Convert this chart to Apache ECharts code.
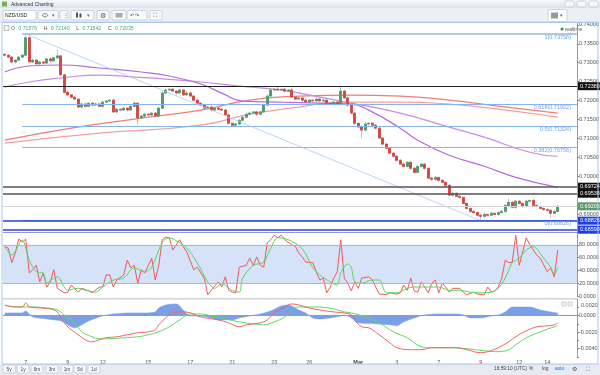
<!DOCTYPE html>
<html><head><meta charset="utf-8">
<script src="https://cdn.jsdelivr.net/npm/echarts@6/dist/echarts.min.js"></script>
<style>html,body{margin:0;padding:0;background:#fff}#c{width:600px;height:375px}</style>
</head><body><div id="c"></div>
<script>
// ---------- DATA ----------
const totalSlots = 164; // 4h candle slots incl. empty space at right
const closes = [0.7320,0.7315,0.7302,0.7307,0.7315,0.7320,0.7366,0.7302,0.7307,0.7297,
0.7302,0.7299,0.7310,0.7305,0.7313,0.7318,0.7268,0.7222,0.7215,0.7209,
0.7204,0.7183,0.7191,0.7185,0.7193,0.7188,0.7191,0.7185,0.7196,0.7199,
0.7201,0.7170,0.7177,0.7175,0.7180,0.7175,0.7185,0.7193,0.7154,0.7159,
0.7164,0.7162,0.7167,0.7159,0.7180,0.7220,0.7228,0.7230,0.7225,0.7220,
0.7228,0.7215,0.7220,0.7212,0.7201,0.7193,0.7188,0.7180,0.7183,0.7175,
0.7180,0.7177,0.7175,0.7162,0.7140,0.7135,0.7138,0.7148,0.7156,0.7164,
0.7167,0.7170,0.7164,0.7170,0.7188,0.7212,0.7228,0.7230,0.7228,0.7230,
0.7225,0.7228,0.7209,0.7204,0.7207,0.7201,0.7196,0.7201,0.7199,0.7204,
0.7199,0.7201,0.7193,0.7191,0.7196,0.7191,0.7225,0.7207,0.7188,0.7167,
0.7140,0.7130,0.7122,0.7138,0.7140,0.7135,0.7127,0.7101,0.7085,0.7074,
0.7061,0.7053,0.7042,0.7032,0.7026,0.7037,0.7021,0.7010,0.7026,0.7032,
0.7021,0.6995,0.6992,0.6997,0.6989,0.6984,0.6976,0.6950,0.6955,0.6947,
0.6944,0.6928,0.6915,0.6907,0.6904,0.6897,0.6894,0.6899,0.6897,0.6902,
0.6899,0.6904,0.6907,0.6923,0.6931,0.6918,0.6934,0.6928,0.6920,0.6934,
0.6936,0.6923,0.6920,0.6915,0.6912,0.6910,0.6902,0.6907,0.69205];
const opens = [0.7322,0.7320,0.7315,0.7302,0.7307,0.7315,0.7320,0.7366,0.7302,0.7307,
0.7297,0.7302,0.7299,0.7310,0.7305,0.7313,0.7318,0.7268,0.7222,0.7215,
0.7209,0.7204,0.7183,0.7191,0.7185,0.7193,0.7188,0.7191,0.7185,0.7196,
0.7199,0.7201,0.7170,0.7177,0.7175,0.7180,0.7175,0.7185,0.7193,0.7154,
0.7159,0.7164,0.7162,0.7167,0.7159,0.7180,0.7220,0.7228,0.7230,0.7225,
0.7220,0.7228,0.7215,0.7220,0.7212,0.7201,0.7193,0.7188,0.7180,0.7183,
0.7175,0.7180,0.7177,0.7175,0.7162,0.7140,0.7135,0.7138,0.7148,0.7156,
0.7164,0.7167,0.7170,0.7164,0.7170,0.7188,0.7212,0.7228,0.7230,0.7228,
0.7230,0.7225,0.7228,0.7209,0.7204,0.7207,0.7201,0.7196,0.7201,0.7199,
0.7204,0.7199,0.7201,0.7193,0.7191,0.7196,0.7191,0.7225,0.7207,0.7188,
0.7167,0.7140,0.7130,0.7122,0.7138,0.7140,0.7135,0.7127,0.7101,0.7085,
0.7074,0.7061,0.7053,0.7042,0.7032,0.7026,0.7037,0.7021,0.7010,0.7026,
0.7032,0.7021,0.6995,0.6992,0.6997,0.6989,0.6984,0.6976,0.6950,0.6955,
0.6947,0.6944,0.6928,0.6915,0.6907,0.6904,0.6897,0.6894,0.6899,0.6897,
0.6902,0.6899,0.6904,0.6907,0.6923,0.6931,0.6918,0.6934,0.6928,0.6920,
0.6934,0.6936,0.6923,0.6920,0.6915,0.6912,0.6910,0.6902,0.6907];
// wick lengths in pips above max(open,close) / below min(open,close)
const upWickPips = [3,2,3,2,3,2,10,3,4,2, 3,2,3,4,2,16,3,2,3,2, 4,2,3,2,3,2,4,3,2,3, 2,5,3,2,3,2,3,4,2,3,
2,3,2,3,4,3,4,2,3,2, 3,2,4,3,2,3,2,3,2,4, 2,3,2,3,4,2,3,2,3,2, 4,2,3,2,4,3,5,3,6,2,
3,2,5,3,2,3,2,3,2,3, 2,3,2,4,2,3,13,3,3,4, 3,2,4,6,3,4,2,3,2,3, 2,3,2,3,4,3,2,3,4,2,
3,2,3,4,2,3,2,4,3,2, 3,2,3,2,3,2,3,4,2,3, 2,3,4,3,11,3,4,3,4,3, 3,4,2,3,2,3,2,3,4];
const downWickPips = [3,2,3,4,2,3,2,3,2,4, 2,3,2,3,2,3,2,4,3,2, 3,2,4,3,2,3,2,3,4,2, 3,2,3,2,3,4,2,3,19,2,
3,2,4,3,2,3,2,3,2,4, 2,3,2,3,4,2,3,2,3,4, 2,3,2,3,4,3,5,2,3,2, 3,2,4,3,2,3,2,3,2,3,
2,3,2,3,2,4,2,3,2,3, 2,3,4,2,3,2,3,2,4,3, 4,3,21,3,4,2,3,2,4,3, 2,4,3,2,3,2,4,3,2,3,
3,2,4,3,2,3,4,2,3,2, 3,2,3,4,2,3,11,3,2,3, 2,3,2,3,2,3,4,2,3,2, 3,2,3,2,4,3,11,2,3];
const dateLabelIndex = [6,18,28,41,53,65,77,87,101,112,124,136,147,155];
const dateLabelText  = ['7','9','12','15','17','21','23','26','Mar','3','7','9','12','14'];
// moving averages [slot, price]
const maPurpleFast = [[0,0.72755],[7,0.72914],[16,0.7294],[27,0.7286],[39,0.72755],[47,0.72649],[56,0.72437],[62,0.72198],[68,0.71986],[79,0.7196],[90,0.71933],[99,0.71907],[104,0.71748],[113,0.71271],[118,0.70953],[127,0.70555],[137,0.70264],[146,0.69972],[158,0.69707]];
const maPurpleSlow = [[0,0.72357],[7,0.7249],[16,0.72596],[27,0.72675],[37,0.72622],[46,0.72569],[56,0.7249],[67,0.72384],[79,0.72278],[90,0.72092],[99,0.71933],[113,0.71668],[127,0.71297],[137,0.71032],[150,0.70635],[158,0.70529]];
const maRedA = [[0,0.70953],[19,0.71271],[39,0.71536],[56,0.71748],[70,0.72013],[84,0.72119],[99,0.72145],[113,0.72119],[127,0.72013],[141,0.71854],[158,0.71668]];
const maRedB = [[0,0.70873],[27,0.71138],[56,0.7135],[70,0.71642],[84,0.71827],[96,0.7196],[113,0.7196],[127,0.71907],[141,0.71774],[158,0.71562]];
// stochastic [slot, value]
const stochK = [[0,77],[1,75],[2,52],[3,67],[4,89],[5,84],[6,89],[7,36],[8,41],[9,48],[10,22],[11,36],[12,14],[13,22],[14,41],[15,12],[17,5],[18,6],[19,17],[21,6],[22,12],[24,8],[25,5],[27,14],[28,14],[29,33],[30,33],[31,14],[32,25],[34,33],[35,56],[36,44],[37,48],[38,20],[39,41],[40,36],[42,59],[43,25],[44,48],[45,88],[46,92],[47,91],[48,72],[50,88],[51,77],[52,69],[54,41],[55,45],[57,28],[58,2],[59,9],[61,22],[62,14],[63,30],[64,9],[65,6],[66,5],[67,45],[69,48],[70,59],[71,48],[72,61],[73,48],[74,45],[75,83],[76,88],[77,95],[78,91],[79,95],[80,88],[82,80],[83,78],[84,67],[85,61],[86,53],[88,52],[89,38],[90,25],[91,28],[92,5],[93,14],[94,28],[95,38],[96,88],[97,28],[98,20],[99,8],[100,22],[101,12],[102,28],[104,30],[105,25],[107,3],[109,2],[110,5],[112,3],[113,5],[114,17],[115,9],[116,28],[117,8],[118,6],[119,22],[120,14],[121,5],[122,20],[123,25],[124,5],[125,20],[126,14],[127,6],[128,12],[130,12],[131,6],[132,2],[134,6],[135,3],[137,2],[138,14],[139,6],[140,8],[141,14],[142,28],[143,56],[144,52],[145,53],[146,95],[147,48],[149,91],[150,80],[152,64],[153,59],[155,38],[156,44],[157,30],[158,72]];
const stochD = [[0,77],[2,64],[5,87],[7,56],[9,38],[11,36],[12,20],[14,28],[15,30],[18,9],[21,12],[23,9],[26,6],[28,14],[31,25],[34,28],[37,44],[40,38],[42,45],[45,84],[47,91],[50,83],[52,75],[55,52],[58,22],[60,12],[62,19],[65,9],[67,6],[68,28],[71,48],[74,53],[76,75],[78,91],[81,88],[85,74],[88,44],[90,33],[93,22],[95,17],[96,36],[98,50],[99,45],[100,22],[102,20],[105,25],[107,25],[109,5],[112,5],[115,12],[117,14],[121,14],[124,14],[127,9],[130,9],[133,6],[136,5],[139,6],[141,12],[143,28],[145,52],[147,59],[149,72],[151,77],[154,59],[156,45],[157,34],[158,44]];
const stochBand = [20, 80];
// MACD [slot, value]
const macdLine = [[0,0.00128],[2,0.00104],[5,0.00104],[6,0.00152],[7,0.00104],[10,0.00092],[13,0.0008],[15,0.00044],[16,-0.00028],[18,-0.00136],[19,-0.00172],[21,-0.00232],[23,-0.00292],[25,-0.00316],[27,-0.00292],[29,-0.00268],[32,-0.00256],[35,-0.00232],[38,-0.00208],[41,-0.00196],[43,-0.00172],[44,-0.00112],[46,-0.00028],[48,0.00032],[51,0.00044],[53,0.00032],[56,-0.00016],[59,-0.0004],[61,-0.00052],[64,-0.00088],[67,-0.00136],[69,-0.00112],[73,-0.00088],[75,-0.00052],[77,0.00032],[80,0.00104],[82,0.0014],[84,0.00128],[87,0.00092],[90,0.00068],[94,0.00044],[97,0.00032],[99,0.00008],[100,-0.00052],[102,-0.00136],[104,-0.00148],[107,-0.00232],[110,-0.00328],[112,-0.00388],[116,-0.00412],[119,-0.00412],[122,-0.00388],[125,-0.00388],[129,-0.00388],[132,-0.00412],[136,-0.00448],[138,-0.00436],[141,-0.00388],[144,-0.00316],[146,-0.00256],[149,-0.00184],[152,-0.00136],[155,-0.00124],[157,-0.00112],[158,-0.00088]];
const macdSignal = [[0,0.00128],[4,0.00104],[8,0.00104],[12,0.00092],[15,0.00068],[17,0.00008],[20,-0.00088],[22,-0.00196],[25,-0.00256],[27,-0.0028],[30,-0.0028],[34,-0.00268],[38,-0.00256],[41,-0.00232],[44,-0.00196],[47,-0.00136],[50,-0.00052],[53,0.0002],[56,0.0002],[59,-0.00004],[63,-0.0004],[67,-0.00076],[71,-0.001],[74,-0.00112],[77,-0.00076],[80,-0.00016],[82,0.00068],[84,0.00104],[89,0.00104],[94,0.0008],[97,0.00044],[99,0.00032],[103,-0.00016],[107,-0.00088],[111,-0.00196],[115,-0.00268],[119,-0.00376],[122,-0.00388],[127,-0.00388],[132,-0.004],[137,-0.00424],[141,-0.00436],[144,-0.00412],[146,-0.00352],[149,-0.00268],[153,-0.00196],[157,-0.00136],[158,-0.00124]];
const macdHist = [[0,0.00032],[3,0.00032],[5,0.00032],[6,0.00056],[7,0.0002],[8,-0.00016],[12,-0.0004],[14,-0.00052],[16,-0.00064],[18,-0.00112],[20,-0.00148],[21,-0.00136],[24,-0.00064],[27,-0.00016],[29,0.00008],[31,0.0002],[36,0.00032],[40,0.00032],[43,0.00044],[44,0.00092],[46,0.00128],[49,0.0014],[51,0.00068],[53,-0.00004],[56,-0.00004],[59,-0.00028],[61,-0.00052],[65,-0.00052],[67,-0.00028],[70,-0.00004],[73,0.0002],[76,0.00056],[79,0.00116],[81,0.00128],[84,0.00068],[86,0.00032],[88,-0.00028],[90,-0.0004],[93,-0.00028],[96,-0.00004],[97,0.00008],[99,-0.00028],[101,-0.00088],[106,-0.001],[110,-0.00112],[112,-0.00124],[114,-0.00076],[117,-0.00028],[120,0.00008],[124,0.0002],[129,0.0002],[131,0.00008],[133,-0.00028],[136,-0.00028],[139,-0.00004],[141,0.00008],[143,0.00044],[145,0.00104],[147,0.00104],[150,0.00104],[153,0.00068],[156,0.00044],[158,0.00032]];
// drawn levels
const fibRatios = ['1','0.618','0.5','0.382','0'];
const fibPrices = [0.73758,0.71902,0.71324,0.70756,0.68826];
const fibStartSlot = 5;
const blackLevels = [0.72380,0.69724,0.69538];
const lastPrice = 0.69205;
const blueLevels = [0.68826,0.68590];
const trendStart = [6, 0.73758], trendEnd = [136, 0.68826];
const headerNames = ['O','H','L','C'];
const headerValues = ['0.71576','0.72140','0.71542','0.72035'];
const rangeButtons = ['5y','1y','6m','3m','1m','5d','1d'];

// ---------- BUILD ----------
const FONT = 'Liberation Sans';
const cats = Array.from({length: totalSlots}, (_, i) => String(i));
const labelMap = {}; dateLabelIndex.forEach((ix, k) => labelMap[ix] = dateLabelText[k]);
const ohlc = closes.map((c, i) => {
  const o = opens[i];
  return [o, c, +(Math.min(o, c) - downWickPips[i] / 10000).toFixed(5), +(Math.max(o, c) + upWickPips[i] / 10000).toFixed(5)];
});
const bodies = closes.map((c, i) => [opens[i], c, Math.min(opens[i], c), Math.max(opens[i], c)]);

const lastSlot = String(totalSlots - 1);
const boxLabel = (bg, txt) => ({show: true, position: 'end', distance: 1, formatter: txt, backgroundColor: bg, color: '#fff', fontSize: 5.5, fontFamily: FONT, padding: [1, 2, 1, 2], lineHeight: 6});
const priceMarks = [];
fibPrices.forEach((v, k) => priceMarks.push([
  {coord: [String(fibStartSlot), v], lineStyle: {color: k === 0 ? '#a9c8f0' : '#86b2ee', width: k === 0 ? 2 : 1, type: 'solid'},
   label: {show: true, position: 'insideEndBottom', distance: 0, formatter: fibRatios[k] + '(' + v.toFixed(5) + ')', color: '#6e9fe6', fontSize: 5.5, fontFamily: FONT, padding: [0, 6, 0, 0]}},
  {coord: [lastSlot, v], x: 577}
]));
priceMarks.push([{coord: [String(trendStart[0]), trendStart[1]], lineStyle: {color: '#a9c9f2', width: 0.8, type: 'solid'}, label: {show: false}}, {coord: [String(trendEnd[0]), trendEnd[1]]}]);
priceMarks.push({yAxis: lastPrice, lineStyle: {color: '#d2d2d2', width: 1, type: 'solid'}, label: boxLabel('#5b9b6f', lastPrice.toFixed(5))});
blackLevels.forEach((v, k) => priceMarks.push({yAxis: v, lineStyle: {color: k === 0 ? '#222' : '#555', width: k === 0 ? 1.2 : 1.5, type: 'solid'}, label: boxLabel('#111', v.toFixed(5))}));
blueLevels.forEach(v => priceMarks.push({yAxis: v, lineStyle: {color: '#2243dc', width: 1.5, type: 'solid'}, label: boxLabel('#1f3fe0', v.toFixed(5))}));

const axisLbl = {fontSize: 5.5, color: '#555', fontFamily: FONT, margin: 2};
const yCommon = {position: 'right', axisLine: {show: true, lineStyle: {color: '#9a9a9a'}}, axisTick: {show: true, length: 2, lineStyle: {color: '#888'}}, splitLine: {show: false}};

const headerRich = headerNames.map((n, k) => '{g|' + n + '} {v|' + headerValues[k] + '}').join('  ');

const btn = (x, y, w, h) => ({type: 'rect', shape: {x, y, width: w, height: h, r: 1}, style: {fill: '#f8f9fc', stroke: '#c3c9d6', lineWidth: 0.8}});
const txt = (x, y, t, size, color, align) => ({type: 'text', x, y, style: {text: t, fontSize: size, fill: color || '#444', fontFamily: FONT, verticalAlign: 'middle', align: align || 'left'}});
const rangeX = [9, 23, 37, 52, 67, 80, 94];
const graphics = [
  {type: 'rect', shape: {x: 0, y: 0, width: 600, height: 8}, style: {fill: new echarts.graphic.LinearGradient(0, 0, 0, 1, [{offset: 0, color: '#f7f9fc'}, {offset: 1, color: '#dde3ed'}])}},
  {type: 'rect', shape: {x: 2, y: 1.5, width: 5, height: 5}, style: {fill: '#76b34f'}},
  txt(11, 4.3, 'Advanced Charting', 5, '#333'),
  btn(565, 1, 9, 6), btn(577, 1, 9, 6), btn(589, 1, 9, 6),
  {type: 'rect', shape: {x: 0, y: 8, width: 600, height: 14}, style: {fill: '#eceff6'}},
  {type: 'rect', shape: {x: 3, y: 10.5, width: 33, height: 9.5}, style: {fill: '#fff', stroke: '#c3c9d6', lineWidth: 0.8}},
  txt(5, 15.5, 'NZD/USD', 5, '#222'),
  btn(38, 10.5, 20, 9.5), {type: 'ellipse', shape: {cx: 45, cy: 15.3, rx: 2.6, ry: 1.6}, style: {fill: 'none', stroke: '#555', lineWidth: 0.7}},
  txt(52, 15.5, '▾', 4.5, '#666'),
  btn(60, 10.5, 8, 9.5), txt(62.5, 15.5, '⋮', 6, '#666'),
  btn(71, 10.5, 23, 9.5), {type: 'rect', shape: {x: 76, y: 12.5, width: 2, height: 5}, style: {fill: '#555'}}, {type: 'rect', shape: {x: 79.5, y: 13.5, width: 2, height: 4}, style: {fill: '#555'}},
  txt(87, 15.5, '▾', 4.5, '#666'),
  btn(97, 10.5, 12, 9.5), txt(99.5, 15.7, '⚙', 7, '#555'),
  btn(112, 10.5, 14, 9.5), {type: 'rect', shape: {x: 115.5, y: 13, width: 7, height: 4.5}, style: {fill: '#aaa'}},
  btn(127, 10.5, 20, 9.5), txt(129.5, 15.5, '↶ ↷', 5, '#555'),
  btn(150, 10.5, 12, 9.5), txt(152.5, 15.6, '⛶', 6, '#555'),
  {type: 'rect', shape: {x: 548, y: 9.5, width: 19, height: 12, r: 1}, style: {fill: '#fff', stroke: '#c3c9d6', lineWidth: 0.8}},
  {type: 'rect', shape: {x: 551, y: 12.5, width: 7, height: 6}, style: {fill: '#999'}},
  txt(560, 15.7, '▾', 4.5, '#666'),
  {type: 'line', shape: {x1: 0, y1: 22, x2: 600, y2: 22}, style: {stroke: '#cfd6e3', lineWidth: 1}},
  {type: 'rect', shape: {x: 2, y: 22.5, width: 596, height: 341.5}, style: {fill: 'none', stroke: '#a6c8ec', lineWidth: 1}, z: 20},
  {type: 'rect', shape: {x: 4, y: 25.5, width: 5, height: 5}, style: {fill: '#f4f4f4', stroke: '#999', lineWidth: 0.6}},
  {type: 'text', x: 11, y: 28.2, style: {text: headerRich, fontFamily: FONT, verticalAlign: 'middle', rich: {g: {fontSize: 5.2, fill: '#555', fontFamily: FONT}, v: {fontSize: 5.2, fill: '#49a67a', fontFamily: FONT}}}},
  {type: 'circle', shape: {cx: 562, cy: 29, r: 1.5}, style: {fill: '#2f8b52'}},
  txt(565, 29.2, 'realtime', 4.8, '#555'),
  {type: 'line', shape: {x1: 3, y1: 298.8, x2: 577, y2: 298.8}, style: {stroke: '#d4d4d4', lineWidth: 1.6}},
  {type: 'rect', shape: {x: 562, y: 302, width: 4, height: 4}, style: {fill: '#f2f2f2', stroke: '#aaa', lineWidth: 0.5}},
  {type: 'rect', shape: {x: 568, y: 302, width: 4, height: 4}, style: {fill: '#f2f2f2', stroke: '#aaa', lineWidth: 0.5}},
  {type: 'text', x: 581, y: 305, style: {text: '0.0020', fontSize: 5.5, fill: '#555', fontFamily: FONT, verticalAlign: 'middle'}},
  {type: 'rect', shape: {x: 0, y: 364, width: 600, height: 11}, style: {fill: '#e7eaf1'}},
  txt(494, 368.8, '16:59:10 (UTC)', 4.8, '#444'),
  txt(529, 368.8, '%', 4.8, '#444'),
  txt(542, 368.8, 'log', 4.8, '#444'),
  txt(555, 368.8, 'auto', 4.8, '#2d6fd8'),
  txt(572, 369, '⚙', 6, '#555'),
  txt(586, 369, '⛶', 6, '#2d6fd8')
];
rangeButtons.forEach((b, k) => { graphics.push(btn(rangeX[k] - 6, 365, 12, 8)); graphics.push(txt(rangeX[k], 369.2, b, 4.8, '#444', 'center')); });

const hiddenX = gi => ({type: 'category', data: cats, gridIndex: gi, show: false});
const option = {
  animation: false,
  backgroundColor: '#fff',
  textStyle: {fontFamily: FONT},
  grid: [
    {left: 3, right: 23, top: 23, height: 210, outerBoundsMode: 'none'},
    {left: 3, right: 23, top: 232, height: 64, outerBoundsMode: 'none'},
    {left: 3, right: 23, top: 299, height: 58, outerBoundsMode: 'none'}
  ],
  xAxis: [hiddenX(0), hiddenX(1), {
    type: 'category', data: cats, gridIndex: 2,
    axisLine: {lineStyle: {color: '#9a9a9a'}},
    axisTick: {alignWithLabel: true, length: 2, interval: (i) => labelMap[i] !== undefined, lineStyle: {color: '#999'}},
    axisLabel: Object.assign({}, axisLbl, {interval: (i) => labelMap[i] !== undefined,
      formatter: (v, i) => labelMap[i] === 'Mar' ? '{b|Mar}' : (labelMap[i] || ''), margin: 2,
      rich: {b: {fontSize: 5.5, fontWeight: 'bold', color: '#444', fontFamily: FONT}}}),
    splitLine: {show: false}
  }],
  yAxis: [
    Object.assign({}, yCommon, {gridIndex: 0, min: 0.685, max: 0.7405, interval: 0.005,
      axisLabel: Object.assign({}, axisLbl, {formatter: v => v.toFixed(5), showMinLabel: false, showMaxLabel: false})}),
    Object.assign({}, yCommon, {gridIndex: 1, min: 0, max: 100, interval: 20,
      axisLabel: Object.assign({}, axisLbl, {formatter: v => v.toFixed(4)})}),
    Object.assign({}, yCommon, {gridIndex: 2, min: -0.005, max: 0.002, interval: 0.001,
      axisLabel: Object.assign({}, axisLbl, {showMaxLabel: false, formatter: v => { const k = Math.round(v * 1000); if (k % 2 !== 0) return ''; return (k / 1000).toFixed(4); }})})
  ],
  series: [
    {name: 'levels', type: 'line', xAxisIndex: 0, yAxisIndex: 0, data: maRedB, smooth: 0.5, symbol: 'none', lineStyle: {color: '#f4a0a0', width: 1.2}, z: 2,
      markLine: {silent: true, precision: 5, symbol: ['none', 'none'], animation: false, data: priceMarks, z: 10}},
    {name: 'ma-red-a', type: 'line', xAxisIndex: 0, yAxisIndex: 0, data: maRedA, smooth: 0.5, symbol: 'none', lineStyle: {color: '#f07c7c', width: 1.2}, z: 2},
    {name: 'ma-purple-slow', type: 'line', xAxisIndex: 0, yAxisIndex: 0, data: maPurpleSlow, smooth: 0.5, symbol: 'none', lineStyle: {color: '#c98be6', width: 1.2}, z: 2},
    {name: 'ma-purple-fast', type: 'line', xAxisIndex: 0, yAxisIndex: 0, data: maPurpleFast, smooth: 0.5, symbol: 'none', lineStyle: {color: '#b56ae0', width: 1.2}, z: 2},
    {name: 'wicks', type: 'candlestick', xAxisIndex: 0, yAxisIndex: 0, data: ohlc, barWidth: 2.2,
      itemStyle: {color: '#b5b5b5', color0: '#b5b5b5', borderColor: '#b5b5b5', borderColor0: '#b5b5b5', borderWidth: 0.8}, z: 3},
    {name: 'bodies', type: 'candlestick', xAxisIndex: 0, yAxisIndex: 0, data: bodies, barWidth: 2.2,
      itemStyle: {color: '#4e9a6a', color0: '#d7453e', borderColor: '#4e9a6a', borderColor0: '#d7453e', borderWidth: 0.8}, z: 4},
    {name: '%K', type: 'line', xAxisIndex: 1, yAxisIndex: 1, data: stochK, symbol: 'none', lineStyle: {color: '#ec5a5f', width: 1}, z: 3,
      markArea: {silent: true, itemStyle: {color: '#d5e2f7'}, data: [[{yAxis: stochBand[0]}, {yAxis: stochBand[1]}]]},
      markLine: {silent: true, symbol: ['none', 'none'], label: {show: false}, data: [
        {yAxis: stochBand[0], lineStyle: {color: '#a6b6da', width: 1, type: 'solid'}},
        {yAxis: stochBand[1], lineStyle: {color: '#a6b6da', width: 1, type: 'solid'}},
        {yAxis: 100, lineStyle: {color: '#9c92c8', width: 1.2, type: 'solid'}}]}},
    {name: '%D', type: 'line', xAxisIndex: 1, yAxisIndex: 1, data: stochD, smooth: 0.3, symbol: 'none', lineStyle: {color: '#5ad65a', width: 1}, z: 4},
    {name: 'hist', type: 'line', xAxisIndex: 2, yAxisIndex: 2, data: macdHist, smooth: 0.3, symbol: 'none', lineStyle: {color: '#7a9fe8', width: 0.5}, areaStyle: {color: '#7a9fe8', opacity: 1}, z: 2},
    {name: 'signal', type: 'line', xAxisIndex: 2, yAxisIndex: 2, data: macdSignal, smooth: 0.4, symbol: 'none', lineStyle: {color: '#62d862', width: 1}, z: 3},
    {name: 'macd', type: 'line', xAxisIndex: 2, yAxisIndex: 2, data: macdLine, smooth: 0.4, symbol: 'none', lineStyle: {color: '#f06464', width: 1}, z: 4}
  ],
  graphic: graphics
};
const chart = echarts.init(document.getElementById('c'), null, {renderer: 'canvas'});
chart.setOption(option);
</script></body></html>
